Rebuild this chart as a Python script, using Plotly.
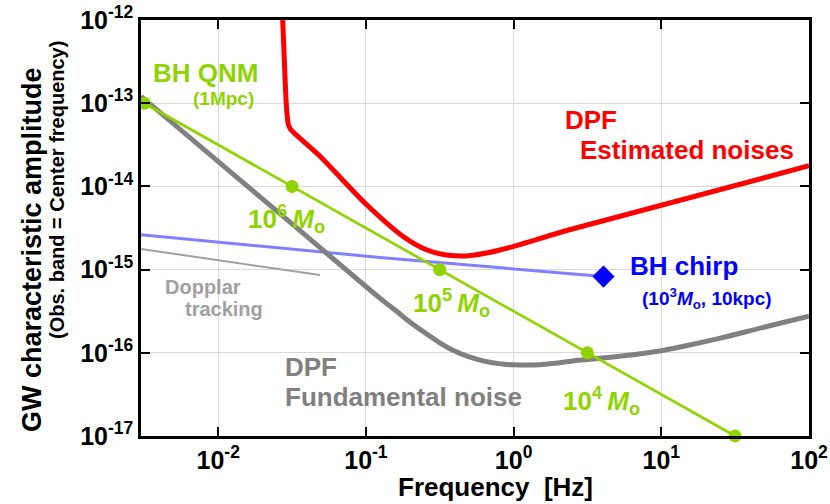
import plotly.graph_objects as go

# ---------------- data ----------------
# DPF fundamental noise (grey)
fund_f = [0.003, 0.0316, 0.1303, 0.1585, 0.1923, 0.2512, 0.3162, 0.3981, 0.5012, 0.631, 0.7943, 1.0, 1.585, 2.754, 5.012, 10.0, 15.85, 25.12, 50.12, 100.0]
fund_h = [1.21e-13, 3.55e-15, 4.24e-16, 3.24e-16, 2.45e-16, 1.74e-16, 1.32e-16, 1.05e-16, 8.91e-17, 7.94e-17, 7.41e-17, 7.16e-17, 7.24e-17, 8.13e-17, 9.02e-17, 1.06e-16, 1.25e-16, 1.50e-16, 2.04e-16, 2.75e-16]

# DPF estimated noises (red)
est_f = [0.0269, 0.02805, 0.02877, 0.02931, 0.02985, 0.03097, 0.04887, 0.1012, 0.1786, 0.257, 0.3508, 0.4786, 0.6546, 0.9886, 2.388, 100.0]
est_h = [2.0e-12, 3.16e-13, 1.10e-13, 7.08e-14, 5.53e-14, 4.82e-14, 2.30e-14, 6.01e-15, 2.50e-15, 1.73e-15, 1.50e-15, 1.46e-15, 1.58e-15, 1.89e-15, 3.01e-15, 1.77e-14]

# BH quasi-normal modes (1 Mpc)
qnm_f = [0.00316, 0.0316, 0.316, 3.16, 31.6]
qnm_h = [1e-13, 1e-14, 1e-15, 1e-16, 1e-17]

# BH chirp (1e3 Msun, 10 kpc)
chirp_f = [0.003, 0.1245, 4.06]
chirp_h = [2.62e-15, 1.40e-15, 8.24e-16]
chirp_end_f = [4.06]
chirp_end_h = [8.24e-16]

# Doppler tracking
dop_f = [0.003, 0.0489]
dop_h = [1.77e-15, 8.6e-16]

# tick labels
x_tickvals = [0.01, 0.1, 1, 10, 100]
x_ticktext = ["10<sup>-2</sup>", "10<sup>-1</sup>", "10<sup>0</sup>", "10<sup>1</sup>", "10<sup>2</sup>"]
y_tickvals = [1e-17, 1e-16, 1e-15, 1e-14, 1e-13, 1e-12]
y_ticktext = ["10<sup>-17</sup>", "10<sup>-16</sup>", "10<sup>-15</sup>", "10<sup>-14</sup>", "10<sup>-13</sup>", "10<sup>-12</sup>"]

# ---------------- styling ----------------
GREEN = "#8fd400"
RED = "#ff0000"
GREY = "#808080"
LGREY = "#a0a0a0"
BLUE_LINE = "#8080ff"
BLUE = "#0000ff"
FONT = "Liberation Sans, Arial, Helvetica, sans-serif"

W, H = 830, 504
ML, MR, MT, MB = 141, 21, 20, 68
PW, PH = W - ML - MR, H - MT - MB


def px(x):
    return (x - ML) / PW


def py(y):
    return (H - MB - y) / PH


fig = go.Figure()

fig.add_trace(go.Scatter(x=chirp_f, y=chirp_h, mode="lines",
                         line=dict(color=BLUE_LINE, width=3, shape="spline"), showlegend=False))
fig.add_trace(go.Scatter(x=dop_f, y=dop_h, mode="lines",
                         line=dict(color=LGREY, width=2), showlegend=False))
fig.add_trace(go.Scatter(x=fund_f, y=fund_h, mode="lines",
                         line=dict(color=GREY, width=5, shape="spline", smoothing=1.0), showlegend=False))
fig.add_trace(go.Scatter(x=est_f, y=est_h, mode="lines",
                         line=dict(color=RED, width=5, shape="spline", smoothing=0.7), showlegend=False))
fig.add_trace(go.Scatter(x=qnm_f, y=qnm_h, mode="lines+markers",
                         line=dict(color=GREEN, width=2.7),
                         marker=dict(color=GREEN, size=13), cliponaxis=False, showlegend=False))
fig.add_trace(go.Scatter(x=chirp_end_f, y=chirp_end_h, mode="markers",
                         marker=dict(color=BLUE, size=17, symbol="diamond"),
                         cliponaxis=False, showlegend=False))

ann = []


def add(text, x, y, size, color, xanchor="left", angle=0):
    ann.append(dict(text=text, x=px(x), y=py(y), xref="paper", yref="paper",
                    xanchor=xanchor, yanchor="middle", showarrow=False, textangle=angle,
                    font=dict(family=FONT, size=size, color=color, weight="bold")))


add("BH QNM", 151, 73, 26, GREEN)
add("(1Mpc)", 191, 98, 19, GREEN)
add("10<sup>6</sup>&#8201;<i>M</i><sub>o</sub>", 246, 219, 26, GREEN)
add("10<sup>5</sup>&#8201;<i>M</i><sub>o</sub>", 411, 303, 26, GREEN)
add("10<sup>4</sup>&#8201;<i>M</i><sub>o</sub>", 561, 401, 26, GREEN)
add("DPF", 563, 120, 26, RED)
add("Estimated noises", 578, 150, 26, RED)
add("BH chirp", 628, 266, 26, BLUE)
add("(10<sup>3</sup><i>M</i><sub>o</sub>, 10kpc)", 640, 298, 19, BLUE)
add("Dopplar", 163, 287, 20, LGREY)
add("tracking", 183, 309, 20, LGREY)
add("DPF", 283, 367, 26, GREY)
add("Fundamental noise", 283, 397, 26, GREY)
add("GW characteristic amplitude", 32, 250, 27, "black", xanchor="center", angle=-90)
add("(Obs. band = Center frequency)", 57, 190, 20, "black", xanchor="center", angle=-90)
add("Frequency  [Hz]", 495, 487, 26, "black", xanchor="center")

fig.update_layout(
    width=W, height=H,
    margin=dict(l=ML, r=MR, t=MT, b=MB, autoexpand=False),
    paper_bgcolor="white", plot_bgcolor="white",
    font=dict(family=FONT, color="black"),
    annotations=ann,
    showlegend=False,
)

axis_common = dict(
    type="log", showline=True, linecolor="black", linewidth=2.5, mirror="ticks",
    ticks="inside", ticklen=9, tickwidth=2, tickcolor="black",
    showgrid=True, gridcolor="#d9d9d9", gridwidth=1, zeroline=False,
    automargin=False,
    tickfont=dict(family=FONT, size=25, color="black", weight="bold"),
)

fig.update_xaxes(range=[-2.5229, 2], tickvals=x_tickvals, ticktext=x_ticktext, **axis_common)
fig.update_yaxes(range=[-17, -12], tickvals=y_tickvals, ticktext=y_ticktext, **axis_common)

fig.write_html("out.html")
